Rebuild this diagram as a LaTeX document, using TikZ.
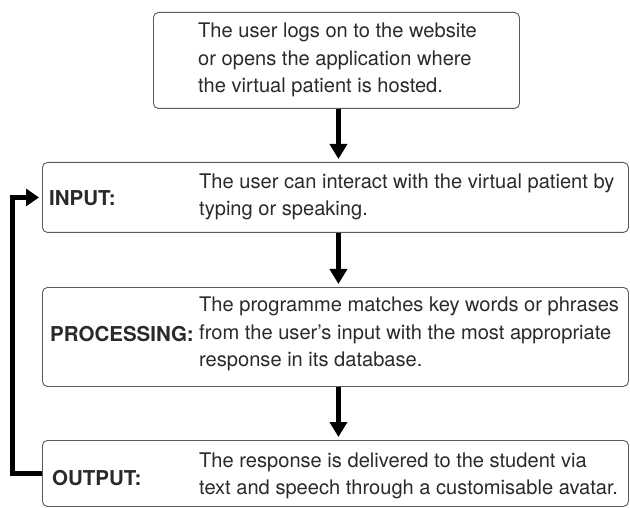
\documentclass[tikz,border=0pt]{standalone}
\usepackage{fontspec}
\setmainfont{TeX Gyre Heros}
\usetikzlibrary{arrows.meta}
\definecolor{boxgray}{HTML}{5A5A5A}
\definecolor{txtgray}{HTML}{2A2A2A}
\tikzset{
  box/.style={draw=boxgray, line width=0.9pt, rounded corners=5pt, inner sep=0pt, anchor=north west},
  txt/.style={inner sep=0pt, anchor=west, align=left, text=txtgray, font=\fontsize{20.1}{27.5}\selectfont},
  lbl/.style={inner sep=0pt, anchor=west, text=txtgray, font=\fontsize{20.5}{27.5}\selectfont\bfseries},
  bigarrow/.style={line width=5pt, -{Triangle[width=17pt,length=15pt]}, shorten >=3pt}
}
\begin{document}
\begin{tikzpicture}[x=1pt,y=-1pt]
\useasboundingbox (0,0) rectangle (630,508);
% boxes
\node[box, minimum width=366pt, minimum height=96pt] (start) at (153,12) {};
\node[box, minimum width=586pt, minimum height=70pt] (input) at (42,162) {};
\node[box, minimum width=586pt, minimum height=99pt] (proc) at (42,287) {};
\node[box, minimum width=586pt, minimum height=66pt] (output) at (42,440) {};
% texts
\node[txt] (t0) at (198,60) {The user logs on to the website\\or opens the application where\\the virtual patient is hosted.};
\node[lbl] (l1) at (49,198) {INPUT:};
\node[txt] (t1) at (199,197) {The user can interact with the virtual patient by\\typing or speaking.};
\node[lbl] (l2) at (50,334) {PROCESSING:};
\node[txt] (t2) at (199,334) {The programme matches key words or phrases\\from the user’s input with the most appropriate\\response in its database.};
\node[lbl] (l3) at (52,478) {OUTPUT:};
\node[txt] (t3) at (199,476) {The response is delivered to the student via\\text and speech through a customisable avatar.};
% arrows
\draw[bigarrow] ([xshift=2pt]start.south) -- ([xshift=2pt]start.south |- input.north);
\draw[bigarrow] ([xshift=2pt]start.south |- input.south) -- ([xshift=2pt]start.south |- proc.north);
\draw[bigarrow] ([xshift=2pt]start.south |- proc.south) -- ([xshift=2pt]start.south |- output.north);
\draw[line width=5pt, -{Triangle[width=17pt,length=13pt]}, shorten >=3pt]
  (output.west) -- ++(-30,0) |- (input.west);
\end{tikzpicture}
\end{document}
